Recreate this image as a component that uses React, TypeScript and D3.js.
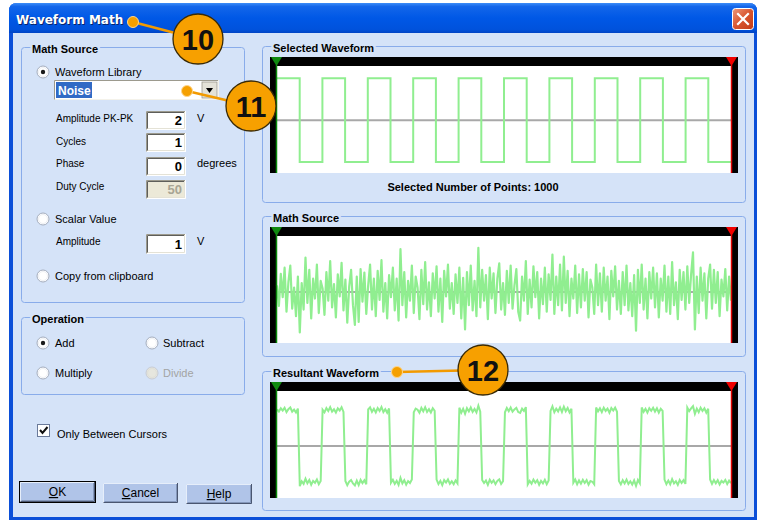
import React from 'react';
import * as d3 from 'd3';

// ---- data ----
const squareLevels = [1, -1, 1, -1, 1, -1, 1, -1, 1, -1, 1, -1, 1, -1, 1, -1, 1, -1, 1, -1];
const noiseValues = [
  0.15, -0.32, 0.41, -0.12, 0.55, -0.45, 0.22, 0.6, -0.38, 0.1, -0.55, 0.35, -0.92, 0.2, -0.4, 0.78, -0.25, 0.5, -0.6, 0.3,
  -0.15, 0.62, -0.48, 0.25, 0.08, -0.52, 0.45, -0.2, 0.7, -0.35, 0.18, -0.58, 0.4, -0.1, 0.66, -0.42, 0.28, -0.7, 0.12, 0.5,
  -0.3, -0.75, 0.35, -0.68, 0.52, -0.22, 0.44, -0.5, 0.15, 0.62, -0.4, 0.3, -0.55, 0.48, -0.18, 0.72, -0.45, 0.2, -0.6, 0.38,
  -0.12, 0.55, -0.42, 0.3, -0.65, 0.97, -0.3, 0.45, -0.58, 0.25, -0.2, 0.6, -0.48, 0.35, 0.1, -0.62, 0.5, -0.28, 0.68, -0.4,
  0.22, -0.55, 0.42, -0.15, 0.58, -0.45, 0.3, -0.68, 0.48, -0.1, 0.62, -0.38, 0.2, -0.5, 0.4, -0.25, 0.55, -0.6, 0.32, -0.85,
  0.45, -0.3, 0.6, -0.42, 0.25, -0.55, 1.0, -0.35, 0.5, -0.2, 0.38, -0.62, 0.55, -0.15, 0.42, -0.48, 0.3, 0.65, -0.4, 0.2,
  -0.52, 0.48, -0.25, 0.6, -0.38, 0.15, 0.52, -0.45, -0.65, 0.35, -0.2, 0.7, -0.5, 0.28, -0.35, 0.58, -0.12, 0.45, -0.6, 0.3,
  -0.28, 0.55, -0.45, 0.4, -0.18, 0.85, -0.5, 0.35, -0.3, 0.62, -0.42, 0.8, -0.25, 0.48, -0.55, 0.3, -0.15, 0.6, -0.48, 0.4,
  -0.35, 0.52, -0.2, 0.45, -0.58, 0.28, 0.1, -0.5, 0.62, -0.3, 0.42, -0.45, 0.55, -0.2, 0.35, -0.62, 0.48, -0.1, 0.58, -0.4,
  0.25, -0.5, 0.45, -0.3, 0.6, -0.42, 0.2, -0.55, 0.38, -0.88, 0.5, -0.25, 0.62, -0.4, 0.3, -0.6, 0.45, -0.15, 0.55, -0.35,
  0.42, -0.58, 0.3, -0.2, 0.6, -0.45, 0.35, -0.5, 0.68, -0.3, 0.22, -0.62, 0.5, -0.18, 0.45, -0.4, 0.58, -0.25, 0.4, 0.9,
  -0.85, 0.35, -0.48, 0.55, -0.2, 0.42, -0.6, 0.3, 0.62, -0.38, 0.5, -0.25, 0.45, -0.55, 0.28, -0.1, 0.52, -0.42, 0.35, -0.2,
];
const noiseGainInResult = 0.12;
const selectedPointCount = 1000;
const sourceFields = [
  { label: 'Amplitude PK-PK', value: '2', unit: 'V' },
  { label: 'Cycles', value: '1', unit: '' },
  { label: 'Phase', value: '0', unit: 'degrees' },
  { label: 'Duty Cycle', value: '50', unit: '', disabled: true },
];
const scalarAmplitude = '1';

// ---- style ----
const BG = '#D5E3F8';
const FONT = '"Liberation Sans", Arial, sans-serif';
const GROUP_STROKE = '#89ACEA';
const GREEN = '#90EE90';

function GroupBox({ x, y, w, h, title }: any) {
  return (
    <g>
      <rect x={x + 0.5} y={y + 0.5} width={w} height={h} rx={3} fill="none" stroke={GROUP_STROKE} strokeWidth={1} />
      <text x={x + 11} y={y + 6} fontFamily={FONT} fontSize={11} fontWeight="bold" fill="#000"
        stroke={BG} strokeWidth={5} paintOrder="stroke" strokeLinejoin="round">{title}</text>
    </g>
  );
}

function Radio({ cx, cy, checked, disabled }: any) {
  return (
    <g>
      <circle cx={cx} cy={cy} r={6} fill={disabled ? '#E6E6DE' : '#FFFFFF'} stroke={disabled ? '#C8CCD4' : '#A4ADBD'} strokeWidth={1} />
      <circle cx={cx} cy={cy} r={4.5} fill="none" stroke={disabled ? '#E0E0D8' : '#EEF0F4'} strokeWidth={1} />
      {checked && <circle cx={cx} cy={cy} r={2.2} fill={disabled ? '#A0A0A0' : '#1A1A1A'} />}
    </g>
  );
}

function TextBox({ x, y, w, h, value, disabled }: any) {
  return (
    <g>
      <rect x={x} y={y} width={w} height={h} fill={disabled ? '#ECE9D8' : '#FFFFFF'} />
      <path d={`M${x + 0.5},${y + h} V${y + 0.5} H${x + w}`} stroke="#9C9A8E" fill="none" />
      <path d={`M${x + 1.5},${y + h - 1} V${y + 1.5} H${x + w - 1}`} stroke="#5E5E5A" fill="none" />
      <path d={`M${x + 0.5},${y + h - 0.5} H${x + w - 0.5} V${y}`} stroke="#FFFFFF" fill="none" />
      <path d={`M${x + 1.5},${y + h - 1.5} H${x + w - 1.5} V${y + 1}`} stroke="#E4E2D6" fill="none" />
      <text x={x + w - 4} y={y + h - 5} textAnchor="end" fontFamily={FONT} fontSize={13} fontWeight="bold"
        fill={disabled ? '#A8A594' : '#000'}>{value}</text>
    </g>
  );
}

function Button({ x, y, w, h, label, isDefault }: any) {
  const first = label.slice(0, 1);
  const rest = label.slice(1);
  return (
    <g>
      <rect x={x} y={y} width={w} height={h} fill="#B0C4E8" />
      <path d={`M${x + 0.5},${y + h} V${y + 0.5} H${x + w}`} stroke="#E6EEFA" fill="none" />
      <path d={`M${x + 0.5},${y + h - 0.5} H${x + w - 0.5} V${y}`} stroke="#4A5670" fill="none" />
      <path d={`M${x + 1.5},${y + h - 1.5} H${x + w - 1.5} V${y + 1}`} stroke="#8497BA" fill="none" />
      {isDefault && <rect x={x - 0.5} y={y - 0.5} width={w + 1} height={h + 1} fill="none" stroke="#000" strokeWidth={1} />}
      <text x={x + w / 2} y={y + h - 6} textAnchor="middle" fontFamily={FONT} fontSize={12} fill="#000">
        <tspan textDecoration="underline">{first}</tspan>{rest}
      </text>
    </g>
  );
}

function Callout({ dot, center, label }: any) {
  return (
    <g>
      <line x1={dot[0]} y1={dot[1]} x2={center[0]} y2={center[1]} stroke="#F29A00" strokeWidth={2.5} />
      <circle cx={dot[0]} cy={dot[1]} r={5.5} fill="#F5A000" stroke="#FFD58A" strokeWidth={1} />
      <circle cx={center[0]} cy={center[1]} r={25} fill="#F7A000" stroke="#3A2A05" strokeWidth={1.3} />
      <text x={center[0]} y={center[1] + 10.5} textAnchor="middle" fontFamily={FONT} fontSize={29} fontWeight="bold" fill="#111">{label}</text>
    </g>
  );
}

function PlotFrame({ frameTop, whiteTop, bottom, midY, children }: any) {
  return (
    <g>
      <rect x={270} y={frameTop} width={468} height={bottom - frameTop} fill="#000" />
      <rect x={277} y={whiteTop} width={454} height={bottom - whiteTop} fill="#FFFFFF" />
      <line x1={277} x2={731} y1={midY} y2={midY} stroke="#A8A8A8" strokeWidth={2} />
      {children}
      <line x1={276.5} x2={276.5} y1={frameTop + 8} y2={bottom} stroke="#0A8A0A" strokeWidth={1.5} />
      <line x1={731.5} x2={731.5} y1={frameTop + 8} y2={bottom} stroke="#E00000" strokeWidth={1.5} />
      <path d={`M271,${frameTop} L282,${frameTop} L276.5,${frameTop + 9} Z`} fill="#108A10" />
      <path d={`M726,${frameTop} L737,${frameTop} L731.5,${frameTop + 9} Z`} fill="#F00000" />
    </g>
  );
}

export default function App() {
  const N = noiseValues.length;
  const halfCount = squareLevels.length;
  const x = d3.scaleLinear().domain([0, halfCount]).range([277, 731]);
  const tOf = (i: number) => (i * halfCount) / (N - 1);

  const ySel = d3.scaleLinear().domain([-1.26, 1.29]).range([173, 66]);
  const yMath = d3.scaleLinear().domain([-1.16, 1.27]).range([343, 236]);
  const yRes = d3.scaleLinear().domain([-1.44, 1.53]).range([498, 391]);

  const stepPts: [number, number][] = squareLevels.map((v, k) => [k, v] as [number, number]);
  stepPts.push([halfCount, squareLevels[halfCount - 1]]);
  const selPath = d3.line<[number, number]>().x(d => x(d[0])).y(d => ySel(d[1])).curve(d3.curveStepAfter)(stepPts) || '';

  const mathPath = d3.line<number>().x((d, i) => x(tOf(i))).y(d => yMath(d))(noiseValues) || '';

  const resValues = noiseValues.map((n, i) => {
    const k = Math.min(halfCount - 1, Math.floor(tOf(i)));
    return squareLevels[k] + n * noiseGainInResult;
  });
  const resPath = d3.line<number>().x((d, i) => x(tOf(i))).y(d => yRes(d))(resValues) || '';

  const fieldTops = [111, 133, 157, 180];
  const labelBase = [122, 145, 167, 190];

  return (
    <svg width={759} height={520} style={{ position: 'absolute', left: 0, top: 0, background: '#FFFFFF' }}>
      <defs>
        <linearGradient id="titleGrad" x1="0" y1="0" x2="0" y2="1">
          <stop offset="0" stopColor="#3C8CF8" />
          <stop offset="0.12" stopColor="#1366EA" />
          <stop offset="0.5" stopColor="#0058E6" />
          <stop offset="0.88" stopColor="#0052DC" />
          <stop offset="1" stopColor="#0044C4" />
        </linearGradient>
        <linearGradient id="closeGrad" x1="0" y1="0" x2="1" y2="1">
          <stop offset="0" stopColor="#EE9A7C" />
          <stop offset="0.5" stopColor="#D8552F" />
          <stop offset="1" stopColor="#C23C18" />
        </linearGradient>
      </defs>

      {/* window frame */}
      <path d="M9,520 V11 Q9,3 17,3 H749 Q757,3 757,11 V520 Z" fill="#0B4FD8" />
      <path d="M9,33 V11 Q9,3 17,3 H749 Q757,3 757,11 V33 Z" fill="url(#titleGrad)" />
      <rect x={13} y={33} width={741} height={484} fill={BG} />

      <text x={17} y={25} fontFamily='"DejaVu Sans", Verdana, sans-serif' fontSize={12} fontWeight="bold" fill="#0A246A">Waveform Math</text>
      <text x={16} y={24} fontFamily='"DejaVu Sans", Verdana, sans-serif' fontSize={12} fontWeight="bold" fill="#FFFFFF">Waveform Math</text>

      <rect x={732.5} y={8.5} width={21} height={21} rx={3} fill="url(#closeGrad)" stroke="#FFFFFF" strokeWidth={1} />
      <path d="M738,14 L748,24 M748,14 L738,24" stroke="#FFFFFF" strokeWidth={2.2} strokeLinecap="square" />

      {/* Math Source group */}
      <GroupBox x={21} y={47} w={223} h={255} title="Math Source" />
      <Radio cx={43} cy={72} checked />
      <text x={55} y={76} fontFamily={FONT} fontSize={11}>Waveform Library</text>

      <rect x={54} y={80} width={165} height={20} fill="#FFFFFF" />
      <path d="M54.5,100 V80.5 H219" stroke="#9C9A8E" fill="none" />
      <path d="M54.5,99.5 H218.5 V80" stroke="#F4F2EA" fill="none" />
      <rect x={56} y={82} width={36} height={16} fill="#316AC5" />
      <text x={58} y={95} fontFamily={FONT} fontSize={12} fontWeight="bold" fill="#FFFFFF">Noise</text>
      <rect x={202} y={82} width={15} height={16} fill="#E4E2D8" stroke="#9C9A8E" strokeWidth={0.8} />
      <path d="M206,88 L213,88 L209.5,93 Z" fill="#000" />

      {sourceFields.map((f, i) => (
        <g key={f.label}>
          <text x={56} y={labelBase[i]} fontFamily={FONT} fontSize={10} fill="#000">{f.label}</text>
          <TextBox x={146} y={fieldTops[i]} w={40} h={19} value={f.value} disabled={f.disabled} />
          {f.unit && <text x={197} y={labelBase[i]} fontFamily={FONT} fontSize={11} fill="#000">{f.unit}</text>}
        </g>
      ))}

      <Radio cx={43} cy={219} />
      <text x={55} y={223} fontFamily={FONT} fontSize={11}>Scalar Value</text>
      <text x={56} y={245} fontFamily={FONT} fontSize={10}>Amplitude</text>
      <TextBox x={146} y={234} w={40} h={20} value={scalarAmplitude} />
      <text x={197} y={245} fontFamily={FONT} fontSize={11}>V</text>

      <Radio cx={43} cy={276} />
      <text x={55} y={280} fontFamily={FONT} fontSize={11}>Copy from clipboard</text>

      {/* Operation group */}
      <GroupBox x={21} y={317} w={223} h={77} title="Operation" />
      <Radio cx={43} cy={343} checked />
      <text x={55} y={347} fontFamily={FONT} fontSize={11}>Add</text>
      <Radio cx={152} cy={343} />
      <text x={163} y={347} fontFamily={FONT} fontSize={11}>Subtract</text>
      <Radio cx={43} cy={373} />
      <text x={55} y={377} fontFamily={FONT} fontSize={11}>Multiply</text>
      <Radio cx={152} cy={373} disabled />
      <text x={163} y={377} fontFamily={FONT} fontSize={11} fill="#A3A3A3">Divide</text>

      {/* checkbox */}
      <rect x={37.5} y={424.5} width={12} height={12} fill="#FFFFFF" stroke="#6A7A9A" />
      <path d="M40,430 L42.5,433 L47.5,427" stroke="#111" strokeWidth={2} fill="none" />
      <text x={57} y={438} fontFamily={FONT} fontSize={11}>Only Between Cursors</text>

      {/* buttons */}
      <Button x={20} y={482} w={75} h={20} label="OK" isDefault />
      <Button x={103} y={483} w={75} h={20} label="Cancel" />
      <Button x={186} y={484} w={66} h={20} label="Help" />

      {/* Selected Waveform */}
      <GroupBox x={262} y={46} w={483} h={156} title="Selected Waveform" />
      <PlotFrame frameTop={57} whiteTop={66} bottom={173} midY={ySel(0)}>
        <path d={selPath} fill="none" stroke={GREEN} strokeWidth={2} />
      </PlotFrame>
      <text x={473} y={191} textAnchor="middle" fontFamily={FONT} fontSize={11} fontWeight="bold">
        {`Selected Number of Points: ${selectedPointCount}`}
      </text>

      {/* Math Source plot */}
      <GroupBox x={262} y={216} w={483} h={140} title="Math Source" />
      <PlotFrame frameTop={227} whiteTop={236} bottom={343} midY={yMath(0)}>
        <path d={mathPath} fill="none" stroke={GREEN} strokeWidth={2.2} strokeLinejoin="round" />
      </PlotFrame>

      {/* Resultant Waveform */}
      <GroupBox x={262} y={371} w={483} h={139} title="Resultant Waveform" />
      <PlotFrame frameTop={382} whiteTop={391} bottom={498} midY={yRes(0)}>
        <path d={resPath} fill="none" stroke={GREEN} strokeWidth={2} />
      </PlotFrame>

      {/* callouts */}
      <Callout dot={[133, 22]} center={[198, 39]} label="10" />
      <Callout dot={[187, 91]} center={[251, 106]} label="11" />
      <Callout dot={[397, 372]} center={[483, 370]} label="12" />
    </svg>
  );
}
